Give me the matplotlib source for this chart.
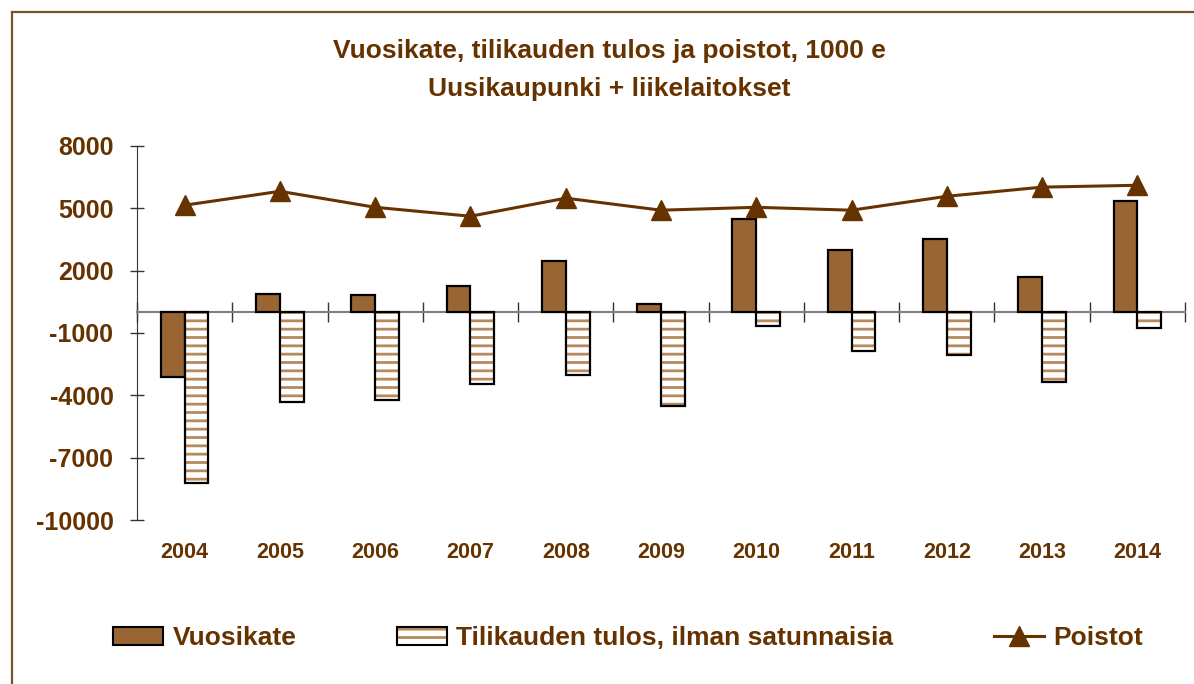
import numpy as np
import matplotlib
matplotlib.use("Agg")
import matplotlib.pyplot as plt
from matplotlib.patches import Patch
from matplotlib.lines import Line2D
from matplotlib.legend_handler import HandlerTuple

# Data (1000 e)
years = ["2004", "2005", "2006", "2007", "2008", "2009", "2010", "2011", "2012", "2013", "2014"]
vuosikate = [-3130, 900, 820, 1250, 2450, 380, 4480, 2990, 3510, 1680, 5340]
tulos = [-8230, -4330, -4230, -3460, -3030, -4520, -670, -1880, -2070, -3370, -770]
poistot = [5150, 5820, 5050, 4620, 5490, 4910, 5050, 4910, 5580, 6020, 6110]
yticks = [-10000, -7000, -4000, -1000, 2000, 5000, 8000]

# colours
brown_text = "#663300"
bar_brown = "#996633"
hatch_tan = "#b8895a"

plt.rcParams["font.family"] = ["Liberation Sans", "DejaVu Sans"]
plt.rcParams["font.weight"] = "bold"
plt.rcParams["hatch.linewidth"] = 2.0

fig = plt.figure(figsize=(11.94, 6.84), dpi=100)
ax = fig.add_axes([137 / 1194, 1 - 520 / 684, (1185 - 137) / 1194, 374 / 684])

x = np.arange(len(years))
w = 0.25

# Vuosikate bars
b1 = ax.bar(x - w / 2, vuosikate, w, color=bar_brown, edgecolor="black", linewidth=1.6, zorder=3)

# Tilikauden tulos: hatch first, black outline on top
b2h = ax.bar(x + w / 2, tulos, w, color="white", edgecolor=hatch_tan, hatch="--", linewidth=0, zorder=3)
b2o = ax.bar(x + w / 2, tulos, w, fill=False, edgecolor="black", linewidth=1.6, zorder=4)

# Poistot line
ln, = ax.plot(x, poistot, color=brown_text, linewidth=2.2, marker="^", markersize=15, zorder=5)

ax.set_xlim(-0.5, len(years) - 0.5)
ax.set_ylim(-10000, 8000)
ax.set_yticks(yticks)
ax.set_yticklabels([str(t) for t in yticks], fontsize=18, color=brown_text, fontweight="bold")
ax.tick_params(axis="y", direction="inout", length=10, width=1, color="#333333", pad=12)

# category axis sits at zero
ax.spines["top"].set_visible(False)
ax.spines["right"].set_visible(False)
ax.spines["left"].set_color("#333333")
ax.spines["bottom"].set_position(("data", 0))
ax.spines["bottom"].set_color("#808080")
ax.spines["bottom"].set_linewidth(1.5)
ax.set_xticks(np.arange(-0.5, len(years), 1.0))
ax.set_xticklabels([])
ax.tick_params(axis="x", direction="inout", length=14, width=1, color="#333333")

for i, yr in enumerate(years):
    ax.text(i, -0.088, yr, transform=ax.get_xaxis_transform(), ha="center", va="center",
            fontsize=15.5, color=brown_text, fontweight="bold")

# title
fig.text(0.51, 1 - 70 / 684, "Vuosikate, tilikauden tulos ja poistot, 1000 e\nUusikaupunki + liikelaitokset",
         ha="center", va="center", fontsize=19, color=brown_text, fontweight="bold", linespacing=1.7)

# legend
h_vk = Patch(facecolor=bar_brown, edgecolor="black", linewidth=1.5)
h_tu = (Patch(facecolor="white", edgecolor=hatch_tan, hatch="--", linewidth=0),
        Patch(fill=False, edgecolor="black", linewidth=1.5))
fig.legend([h_vk, h_tu, ln], ["Vuosikate", "Tilikauden tulos, ilman satunnaisia", "Poistot"],
           handler_map={tuple: HandlerTuple(ndivide=1)},
           loc="center", bbox_to_anchor=(628 / 1194, 1 - 638 / 684), ncol=3, frameon=False,
           prop={"size": 19, "weight": "bold"}, labelcolor=brown_text,
           handlelength=1.9, handleheight=0.7, handletextpad=0.35, columnspacing=3.8)

# outer frame (top and left edges visible)
fig.add_artist(Line2D([12 / 1194, 1.0], [1 - 12 / 684, 1 - 12 / 684], color="#7a5230", linewidth=1.6))
fig.add_artist(Line2D([12 / 1194, 12 / 1194], [0.0, 1 - 12 / 684], color="#7a5230", linewidth=1.6))

fig.savefig("out.png", dpi=100)
